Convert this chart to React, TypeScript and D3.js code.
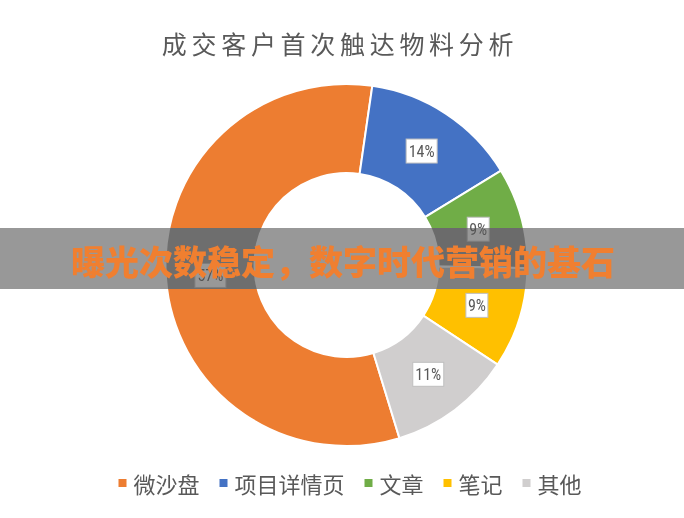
import React from 'react';
import * as d3 from 'd3';

// chart data
const categories = ['微沙盘', '项目详情页', '文章', '笔记', '其他'];
const shares = [57, 14, 9, 9, 11];
const sliceLabels = ['57%', '14%', '9%', '9%', '11%'];
const colours = ['#ED7D31', '#4472C4', '#70AD47', '#FFC000', '#D0CECE'];

const title = '成交客户首次触达物料分析';
const banner = '曝光次数稳定，数字时代营销的基石';

const W = 684;
const H = 518;

const App: React.FC = () => {
  const cx = 346.5;
  const cy = 265;
  const outerR = 181;
  const innerR = 92;

  const pie = d3.pie<number>()
    .sort(null)
    .value(d => d)
    .startAngle((163 * Math.PI) / 180)
    .endAngle((163 * Math.PI) / 180 + 2 * Math.PI);
  const arcs = pie(shares);

  const arc = d3.arc<d3.PieArcDatum<number>>()
    .innerRadius(innerR)
    .outerRadius(outerR);
  const labelArc = d3.arc<d3.PieArcDatum<number>>()
    .innerRadius((innerR + outerR) / 2)
    .outerRadius((innerR + outerR) / 2);

  // legend layout
  const legendFont = 22;
  const markerSize = 8;
  const markerGap = 7;
  const itemGap = 20;
  const itemWidths = categories.map(c => markerSize + markerGap + c.length * legendFont);
  const totalLegend = d3.sum(itemWidths) + itemGap * (categories.length - 1);
  let lx = 350 - totalLegend / 2;
  const legendX = itemWidths.map(w => {
    const x = lx;
    lx += w + itemGap;
    return x;
  });
  const legendY = 483;

  return (
    <svg
      width={W}
      height={H}
      style={{ position: 'absolute', left: 0, top: 0, background: '#fff' }}
    >
      <rect width={W} height={H} fill="#fff" />
      <text
        x={340}
        y={43}
        textAnchor="middle"
        dominantBaseline="central"
        fill="#595959"
        fontSize={25}
        letterSpacing={4.7}
        fontFamily='"Noto Sans CJK SC", sans-serif'
      >
        {title}
      </text>

      <g transform={`translate(${cx},${cy})`}>
        {arcs.map((a, i) => (
          <path key={categories[i]} d={arc(a) ?? ''} fill={colours[i]} stroke="#fff" strokeWidth={2} />
        ))}
        {arcs.map((a, i) => {
          const [x, y] = labelArc.centroid(a);
          const w = sliceLabels[i].length > 2 ? 31 : 22;
          return (
            <g key={`lbl-${i}`} transform={`translate(${x},${y})`}>
              <rect x={-w / 2} y={-12} width={w} height={24} fill="#fff" stroke="#BFBFBF" strokeWidth={1} />
              <text
                textAnchor="middle"
                dominantBaseline="central"
                fill="#595959"
                fontSize={16}
                fontFamily='"Liberation Sans Narrow", "Roboto Condensed", "DejaVu Sans Condensed", sans-serif'
              >
                {sliceLabels[i]}
              </text>
            </g>
          );
        })}
      </g>

      {categories.map((c, i) => (
        <g key={`leg-${c}`}>
          <rect
            x={legendX[i]}
            y={legendY - markerSize / 2}
            width={markerSize}
            height={markerSize}
            fill={colours[i]}
          />
          <text
            x={legendX[i] + markerSize + markerGap}
            y={legendY}
            dominantBaseline="central"
            fill="#595959"
            fontSize={legendFont}
            fontFamily='"Noto Sans CJK SC", sans-serif'
          >
            {c}
          </text>
        </g>
      ))}

      {/* overlay banner */}
      <rect x={0} y={228} width={W} height={61} fill="#808080" style={{ mixBlendMode: 'saturation' }} />
      <rect x={0} y={228} width={W} height={61} fill="#535353" opacity={0.6} />
      <text
        x={343}
        y={260}
        textAnchor="middle"
        dominantBaseline="central"
        fill="#F07F30"
        fontSize={34}
        fontWeight={900}
        fontFamily='"Noto Sans CJK SC", sans-serif'
      >
        {banner}
      </text>
    </svg>
  );
};

export default App;
